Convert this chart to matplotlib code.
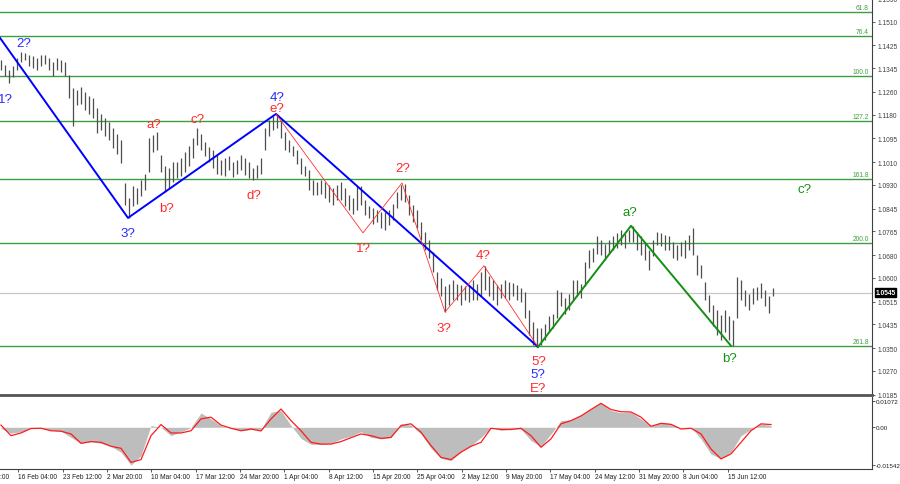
import numpy as np
import matplotlib
matplotlib.use("Agg")
import matplotlib.pyplot as plt
from matplotlib import transforms

plt.rcParams["font.family"] = ["Liberation Sans", "DejaVu Sans"]

# ---- price bars (one bar every 4 px, high / low) ----
bar_high = [
    1.1374, 1.1356, 1.1339, 1.1353, 1.1381, 1.1402, 1.1399, 1.1392, 1.1388, 1.1381,
    1.1392, 1.1392, 1.1381, 1.1367, 1.1381, 1.1374, 1.1367, 1.1321, 1.1275, 1.1268,
    1.1278, 1.1260, 1.1246, 1.1239, 1.1204, 1.1182, 1.1168, 1.1154, 1.1133, 1.1111,
    1.1090, 1.0937, 1.0884, 1.0927, 1.0920, 1.0948, 1.0969, 1.1097, 1.1108, 1.1118,
    1.1037, 1.0998, 1.0991, 1.1012, 1.1012, 1.1026, 1.1047, 1.1069, 1.1097, 1.1133,
    1.1111, 1.1083, 1.1065, 1.1055, 1.1037, 1.1019, 1.1026, 1.1033, 1.1012, 1.1019,
    1.1037, 1.1026, 1.1012, 1.0991, 1.1001, 1.1026, 1.1133, 1.1161, 1.1175, 1.1182,
    1.1161, 1.1118, 1.1090, 1.1069, 1.1055, 1.1026, 1.0998, 1.0984, 1.0948, 1.0941,
    1.0948, 1.0941, 1.0930, 1.0920, 1.0930, 1.0941, 1.0920, 1.0895, 1.0884, 1.0927,
    1.0927, 1.0877, 1.0856, 1.0849, 1.0842, 1.0834, 1.0834, 1.0842, 1.0863, 1.0905,
    1.0930, 1.0934, 1.0895, 1.0859, 1.0842, 1.0799, 1.0763, 1.0735, 1.0692, 1.0621,
    1.0600, 1.0572, 1.0579, 1.0593, 1.0579, 1.0575, 1.0572, 1.0575, 1.0593, 1.0579,
    1.0621, 1.0643, 1.0607, 1.0593, 1.0575, 1.0579, 1.0593, 1.0586, 1.0582, 1.0575,
    1.0565, 1.0551, 1.0487, 1.0444, 1.0423, 1.0423, 1.0437, 1.0465, 1.0472, 1.0558,
    1.0551, 1.0529, 1.0543, 1.0593, 1.0593, 1.0579, 1.0657, 1.0700, 1.0707, 1.0749,
    1.0735, 1.0721, 1.0735, 1.0749, 1.0760, 1.0771, 1.0756, 1.0771, 1.0785, 1.0763,
    1.0749, 1.0728, 1.0700, 1.0735, 1.0763, 1.0760, 1.0753, 1.0749, 1.0728, 1.0717,
    1.0728, 1.0735, 1.0753, 1.0778, 1.0682, 1.0646, 1.0586, 1.0540, 1.0504, 1.0487,
    1.0469, 1.0487, 1.0465, 1.0451, 1.0604, 1.0593, 1.0558, 1.0543, 1.0565, 1.0568,
    1.0582, 1.0558, 1.0536, 1.0565,
]
bar_low = [
    1.1339, 1.1317, 1.1292, 1.1314, 1.1339, 1.1367, 1.1374, 1.1353, 1.1346, 1.1339,
    1.1353, 1.1360, 1.1339, 1.1317, 1.1339, 1.1331, 1.1317, 1.1239, 1.1140, 1.1214,
    1.1218, 1.1197, 1.1182, 1.1168, 1.1115, 1.1126, 1.1104, 1.1090, 1.1062, 1.1040,
    1.1008, 1.0859, 1.0813, 1.0856, 1.0863, 1.0891, 1.0913, 1.0976, 1.1047, 1.1055,
    1.0976, 1.0905, 1.0920, 1.0941, 1.0955, 1.0962, 1.0976, 1.0998, 1.1026, 1.1072,
    1.1055, 1.1033, 1.1012, 1.0991, 1.0969, 1.0966, 1.0962, 1.0984, 1.0959, 1.0969,
    1.0984, 1.0966, 1.0955, 1.0948, 1.0955, 1.0969, 1.1055, 1.1104, 1.1126, 1.1133,
    1.1097, 1.1055, 1.1047, 1.1033, 1.1005, 1.0969, 1.0962, 1.0913, 1.0895, 1.0895,
    1.0898, 1.0884, 1.0870, 1.0859, 1.0877, 1.0877, 1.0856, 1.0842, 1.0827, 1.0842,
    1.0859, 1.0824, 1.0813, 1.0792, 1.0799, 1.0778, 1.0771, 1.0788, 1.0806, 1.0849,
    1.0877, 1.0870, 1.0824, 1.0799, 1.0778, 1.0735, 1.0700, 1.0671, 1.0621, 1.0558,
    1.0536, 1.0479, 1.0504, 1.0522, 1.0522, 1.0504, 1.0522, 1.0515, 1.0522, 1.0522,
    1.0536, 1.0558, 1.0536, 1.0522, 1.0504, 1.0529, 1.0529, 1.0522, 1.0536, 1.0522,
    1.0515, 1.0458, 1.0398, 1.0362, 1.0355, 1.0362, 1.0380, 1.0408, 1.0423, 1.0458,
    1.0501, 1.0472, 1.0487, 1.0522, 1.0536, 1.0529, 1.0572, 1.0636, 1.0657, 1.0685,
    1.0682, 1.0664, 1.0685, 1.0700, 1.0707, 1.0717, 1.0707, 1.0728, 1.0728, 1.0700,
    1.0682, 1.0664, 1.0629, 1.0678, 1.0717, 1.0714, 1.0700, 1.0700, 1.0671, 1.0664,
    1.0678, 1.0671, 1.0700, 1.0682, 1.0611, 1.0600, 1.0522, 1.0479, 1.0430, 1.0398,
    1.0380, 1.0408, 1.0380, 1.0359, 1.0458, 1.0522, 1.0501, 1.0487, 1.0508, 1.0522,
    1.0529, 1.0501, 1.0476, 1.0536,
]
last_price = 1.0545

# ---- Fibonacci levels ----
fib_levels = [1.1543, 1.1457, 1.1316, 1.1156, 1.0950, 1.0723, 1.0358]
fib_names = ["61.8", "76.4", "100.0", "127.2", "161.8", "200.0", "261.8"]

# ---- wave pivots (bar position in px, price) ----
blue_wave_x = [0, 128, 276, 538]
blue_wave_p = [1.1452, 1.0813, 1.1182, 1.0355]
red_wave_x = [276, 363, 402, 445, 484, 538]
red_wave_p = [1.1182, 1.0760, 1.0937, 1.0479, 1.0643, 1.0355]
green_wave_x = [538, 631, 731]
green_wave_p = [1.0355, 1.0785, 1.0359]

# wave labels: text, x, price, colour
wave_labels = [
    ("1?", 5, 1.1236, "blue"), ("2?", 24, 1.1434, "blue"), ("3?", 128, 1.0760, "blue"),
    ("4?", 277, 1.1243, "blue"), ("e?", 277, 1.1204, "red"), ("a?", 154, 1.1147, "red"),
    ("c?", 198, 1.1165, "red"), ("b?", 167, 1.0849, "red"), ("d?", 254, 1.0895, "red"),
    ("1?", 363, 1.0707, "red"), ("2?", 403, 1.0991, "red"), ("3?", 444, 1.0423, "red"),
    ("4?", 483, 1.0682, "red"), ("5?", 539, 1.0305, "red"), ("5?", 538, 1.0259, "blue"),
    ("E?", 538, 1.0210, "red"), ("a?", 630, 1.0834, "green"), ("b?", 730, 1.0316, "green"),
    ("c?", 805, 1.0916, "green"),
]

# ---- price axis labels ----
price_ticks = ["1.1590", "1.1510", "1.1425", "1.1345", "1.1260", "1.1180", "1.1095",
               "1.1010", "1.0930", "1.0845", "1.0765", "1.0680", "1.0600", "1.0515",
               "1.0435", "1.0350", "1.0270", "1.0185"]

# ---- MACD (sampled every 10 px) ----
macd_hist = [
    -0.0004, -0.0024, -0.0018, -0.0004, -0.0004, -0.0012, -0.0015, -0.0041, -0.0065, -0.0058,
    -0.0065, -0.0077, -0.0101, -0.0153, -0.0115, 0.0007, 0.0000, -0.0034, -0.0018, -0.0001,
    0.0058, 0.0034, 0.0007, -0.0004, -0.0014, -0.0009, -0.0009, 0.0061, 0.0068, 0.0007,
    -0.0045, -0.0069, -0.0070, -0.0065, -0.0047, -0.0036, -0.0018, -0.0041, -0.0047, -0.0041,
    0.0014, 0.0009, -0.0027, -0.0085, -0.0126, -0.0135, -0.0099, -0.0074, -0.0041, 0.0000,
    -0.0012, -0.0007, -0.0007, -0.0054, -0.0078, -0.0027, 0.0027, 0.0030, 0.0049, 0.0074,
    0.0099, 0.0068, 0.0059, 0.0061, 0.0034, 0.0004, 0.0020, 0.0014, -0.0003, 0.0000,
    -0.0047, -0.0108, -0.0128, -0.0101, -0.0034, -0.0009, 0.0014, 0.0007,
]
macd_signal = [
    0.0009, -0.0034, -0.0023, -0.0005, -0.0004, -0.0014, -0.0016, -0.0027, -0.0065, -0.0058,
    -0.0061, -0.0077, -0.0085, -0.0142, -0.0131, -0.0034, 0.0011, -0.0023, -0.0023, -0.0014,
    0.0034, 0.0041, 0.0009, -0.0004, -0.0014, -0.0007, -0.0015, 0.0034, 0.0074, 0.0027,
    -0.0014, -0.0061, -0.0068, -0.0068, -0.0058, -0.0042, -0.0027, -0.0034, -0.0045, -0.0041,
    0.0007, 0.0014, -0.0020, -0.0074, -0.0122, -0.0131, -0.0101, -0.0077, -0.0061, -0.0004,
    -0.0009, -0.0009, -0.0004, -0.0034, -0.0081, -0.0047, 0.0014, 0.0027, 0.0046, 0.0072,
    0.0097, 0.0072, 0.0063, 0.0062, 0.0041, 0.0004, 0.0016, 0.0012, -0.0007, -0.0004,
    -0.0027, -0.0088, -0.0128, -0.0108, -0.0061, -0.0014, 0.0014, 0.0011,
]
macd_ticks = ["0.01072", "0.00", "-0.01542"]

date_labels = ["9 Feb 20:00", "16 Feb 04:00", "23 Feb 12:00", "2 Mar 20:00", "10 Mar 04:00",
               "17 Mar 12:00", "24 Mar 20:00", "1 Apr 04:00", "8 Apr 12:00", "15 Apr 20:00",
               "25 Apr 04:00", "2 May 12:00", "9 May 20:00", "17 May 04:00", "24 May 12:00",
               "31 May 20:00", "8 Jun 04:00", "15 Jun 12:00"]

FIB_GREEN = "#3e9e3e"
AXIS_GRAY = "#404040"

fig = plt.figure(figsize=(9, 4.85), dpi=100)
W, H = 900.0, 485.0
ax = fig.add_axes([0, (H - 396) / H, 872 / W, 396 / H])
axm = fig.add_axes([0, (H - 470) / H, 872 / W, 72 / H])

# ---------------- main price panel ----------------
bar_x = np.arange(len(bar_high)) * 4 + 1
ax.vlines(bar_x, bar_low, bar_high, color="#4e4e4e", linewidth=0.9, zorder=2)

for lvl, name in zip(fib_levels, fib_names):
    ax.axhline(lvl, color=FIB_GREEN, linewidth=1.0, zorder=1)
    ax.text(869, lvl + 0.0004, name, color=FIB_GREEN, fontsize=4.8,
            ha="right", va="bottom", zorder=3)

ax.axhline(last_price, color="#c8c8c8", linewidth=0.9, zorder=1)

ax.plot(blue_wave_x, blue_wave_p, color="#0000ff", linewidth=1.4, zorder=4)
ax.plot(red_wave_x, red_wave_p, color="#ff3030", linewidth=0.6, zorder=4)
ax.plot(green_wave_x, green_wave_p, color="#139013", linewidth=1.4, zorder=4)

wave_colors = {"blue": "#2a2aff", "red": "#ff2a2a", "green": "#139013"}
for txt, x, p, c in wave_labels:
    ax.text(x, p, txt, color=wave_colors[c], fontsize=9.5, ha="center", va="center", zorder=5)

ax.set_xlim(0, 872)
ax.set_ylim(1.01844, 1.1590)
ax.yaxis.tick_right()
ax.set_yticks([float(t) for t in price_ticks])
ax.set_yticklabels(price_ticks, fontsize=4.8, color="#202020")
ax.tick_params(axis="y", length=2.5, width=0.6, pad=1.5, colors=AXIS_GRAY)
ax.set_xticks([])
for s in ("top", "left"):
    ax.spines[s].set_visible(False)
ax.spines["right"].set_color(AXIS_GRAY)
ax.spines["right"].set_linewidth(0.8)
ax.spines["bottom"].set_color("#555555")
ax.spines["bottom"].set_linewidth(2.0)

# current price box on the axis
tr = transforms.blended_transform_factory(ax.transAxes, ax.transData)
ax.text(1.004, last_price + 0.0003, "1.0545", transform=tr, fontsize=4.8, color="white",
        fontweight="bold", ha="left", va="center", clip_on=False, zorder=6,
        bbox=dict(boxstyle="square,pad=0.12", facecolor="black", edgecolor="black"))

# ---------------- MACD panel ----------------
mx = np.arange(len(macd_hist)) * 10 + 1
axm.fill_between(mx, 0, macd_hist, color="#bdbdbd", linewidth=0, zorder=1)
axm.plot(mx, macd_signal, color="#ff1a1a", linewidth=0.9, zorder=2)
axm.set_xlim(0, 872)
axm.set_ylim(-0.0169, 0.01227)
axm.yaxis.tick_right()
axm.set_yticks([float(t) for t in macd_ticks])
axm.set_yticklabels(macd_ticks, fontsize=4.5, color="#202020")
axm.tick_params(axis="y", length=2.0, width=0.6, pad=1.0, colors=AXIS_GRAY)
for s in ("top", "left"):
    axm.spines[s].set_visible(False)
for s in ("right", "bottom"):
    axm.spines[s].set_color(AXIS_GRAY)
    axm.spines[s].set_linewidth(0.8)
for lbl in axm.get_yticklabels():
    lbl.set_color("#202020")

# date labels, one every 44.3 px, left-aligned at the tick
date_x = -26 + 44.33 * np.arange(len(date_labels))
visible = date_x[date_x >= 0]
axm.set_xticks(visible)
axm.set_xticklabels([])
axm.tick_params(axis="x", length=2.5, width=0.6, colors=AXIS_GRAY)
trd = transforms.blended_transform_factory(axm.transData, axm.transAxes)
for x, lbl in zip(date_x, date_labels):
    axm.text(x, -0.105, lbl, transform=trd, fontsize=4.8, color="#202020",
             ha="left", va="center", clip_on=False)

fig.savefig("out.png", dpi=100, facecolor="white")
